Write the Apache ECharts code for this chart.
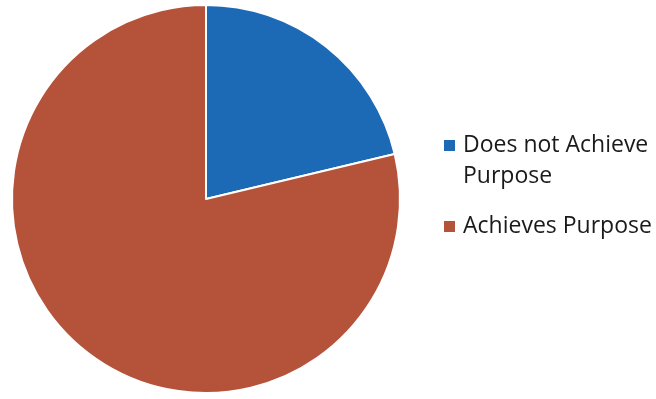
<!DOCTYPE html>
<html>
<head>
<meta charset="utf-8">
<script src="https://cdn.jsdelivr.net/npm/echarts@6/dist/echarts.min.js"></script>
<style>
  html, body { margin: 0; padding: 0; background: #fff; }
  #chart { width: 656px; height: 399px; }
</style>
</head>
<body>
<div id="chart"></div>
<script>
// Categories and counts for the pie
const categories = ['Does not Achieve\nPurpose', 'Achieves Purpose'];
const counts = [10, 37];
const colors = ['#1c69b5', '#b5533a'];

const legendText = {
  fontFamily: 'Open Sans',
  fontSize: 23,
  color: '#1a1a1a',
  lineHeight: 31,
  padding: [0, 0, 0, 2]
};

// Marker for a two-line name: square at the top of a 13x44 box,
// so it sits beside the first line.
const topSquare = 'path://M0,0H13V13H0Z M0,44L0.01,44';

const chart = echarts.init(document.getElementById('chart'), null, { renderer: 'canvas' });

chart.setOption({
  animation: false,
  backgroundColor: '#ffffff',
  color: colors,
  legend: [{
    orient: 'vertical',
    left: 442,
    top: 130,
    padding: 0,
    itemWidth: 13,
    itemHeight: 44,
    icon: topSquare,
    selectedMode: false,
    textStyle: legendText,
    data: [categories[0]]
  }, {
    orient: 'vertical',
    left: 442,
    top: 211,
    padding: 0,
    itemWidth: 13,
    itemHeight: 13,
    icon: 'rect',
    selectedMode: false,
    textStyle: legendText,
    data: [categories[1]]
  }],
  series: [{
    type: 'pie',
    center: [206, 199],
    radius: [0, 194],
    startAngle: 90,
    clockwise: true,
    label: { show: false },
    labelLine: { show: false },
    itemStyle: { borderColor: '#ffffff', borderWidth: 2 },
    emphasis: { disabled: true },
    data: categories.map((name, i) => ({ name: name, value: counts[i] }))
  }]
});
</script>
</body>
</html>
